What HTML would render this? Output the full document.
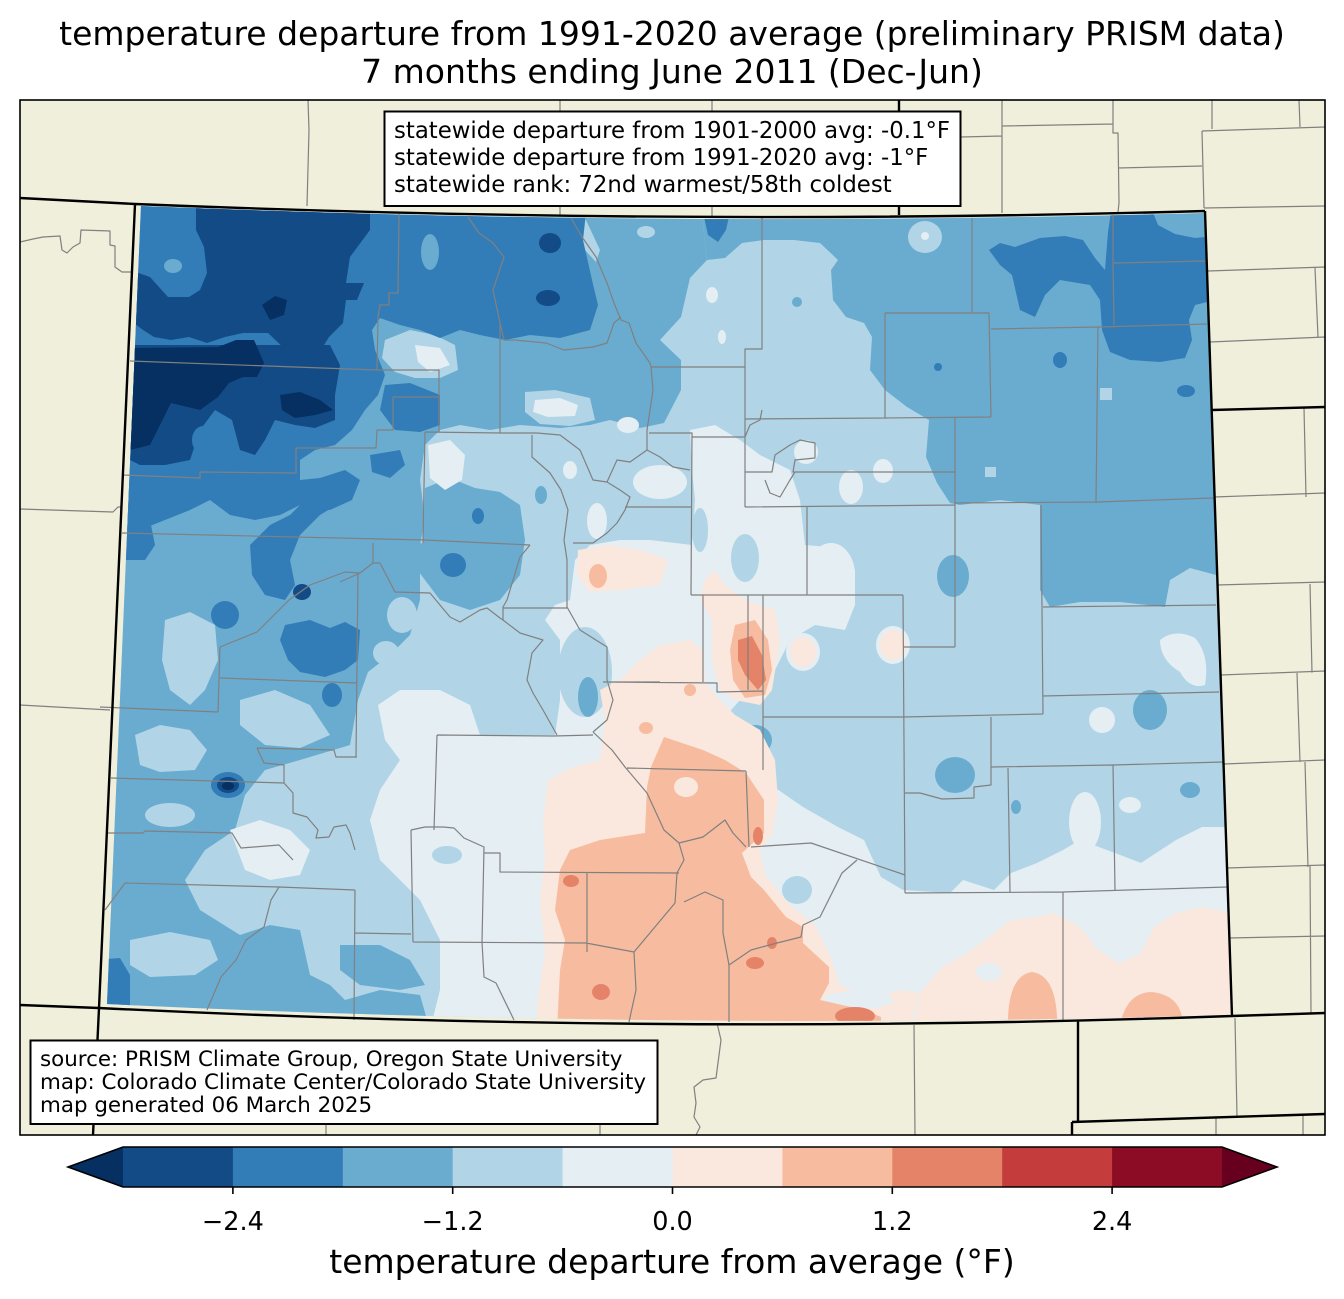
<!DOCTYPE html>
<html><head><meta charset="utf-8"><style>html,body{margin:0;padding:0;background:#fff}svg{display:block}</style></head>
<body>
<svg xmlns="http://www.w3.org/2000/svg" width="1344" height="1299" viewBox="0 0 1344 1299" font-family="DejaVu Sans, Liberation Sans, sans-serif">
<rect width="1344" height="1299" fill="#fff"/>
<text x="672" y="45" font-size="33" text-anchor="middle" fill="#000">temperature departure from 1991-2020 average (preliminary PRISM data)</text>
<text x="672" y="83" font-size="33" text-anchor="middle" fill="#000">7 months ending June 2011 (Dec-Jun)</text>
<defs>
<clipPath id="fr"><rect x="20" y="100" width="1305" height="1035"/></clipPath>
<clipPath id="co"><path d="M141,206 Q670,228 1204,213 L1231,1015 Q668,1031 107,1004 Z"/></clipPath>
</defs>
<g clip-path="url(#fr)">
<rect x="20" y="100" width="1305" height="1035" fill="#efefdb"/>
<g clip-path="url(#co)">
<rect x="90" y="190" width="1160" height="850" fill="#b1d5e7"/>
<!-- bin3 -->
<g fill="#6aacd0">
<polygon points="120,195 700,195 707,260 690,278 681,317 660,340 681,360 681,390 664,423 640,428 610,420 590,425 560,428 520,425 490,430 460,425 440,430 425,445 420,480 425,520 420,545 420,600 410,635 390,655 368,672 358,700 350,745 300,760 265,770 245,795 235,830 205,850 185,880 200,910 240,935 270,925 300,930 310,975 330,985 345,1000 380,990 420,995 430,1030 90,1030"/>
<polygon points="700,195 1240,195 1240,575 1216,575 1190,568 1170,580 1165,607 1120,602 1080,602 1050,607 1040,590 1040,505 1000,500 960,505 950,503 937,483 926,457 929,420 907,407 885,390 870,370 872,337 864,323 846,317 833,300 831,270 838,260 820,243 794,240 764,240 742,243 725,258 707,260"/>
<polygon points="425,488 450,478 475,488 500,492 520,505 525,540 520,575 500,600 470,610 440,600 425,580 410,560 400,545 423,543"/>
<polygon points="340,945 380,945 410,960 425,985 400,990 360,985 340,970"/>
<ellipse cx="541" cy="495" rx="6" ry="9"/>
<ellipse cx="1150" cy="710" rx="17" ry="20"/>
<ellipse cx="955" cy="775" rx="20" ry="18"/>
<ellipse cx="755" cy="740" rx="17" ry="15"/>
<ellipse cx="1190" cy="790" rx="10" ry="8"/>
<ellipse cx="1016" cy="807" rx="5" ry="7"/>
<ellipse cx="953" cy="576" rx="16" ry="21"/>
<ellipse cx="797" cy="302" rx="5" ry="5"/>
</g>
<!-- bin4 patches in bin3 -->
<g fill="#b1d5e7">
<ellipse cx="925" cy="237" rx="17" ry="16"/>
<rect x="985" y="467" width="11" height="10"/>
<rect x="1100" y="388" width="12" height="12"/>
<polygon points="385,340 410,330 435,335 455,345 458,370 440,378 415,378 395,372 382,358"/>
<polygon points="525,392 555,390 590,398 595,420 570,426 540,424 525,412"/>
<polygon points="165,620 190,612 215,625 218,660 205,690 190,705 170,690 162,660"/>
<polygon points="135,735 160,725 190,730 207,750 195,770 160,772 140,765"/>
<polygon points="130,940 170,932 210,940 218,960 195,975 150,977 130,965"/>
<polygon points="240,700 275,690 310,705 330,735 300,748 265,745 240,725"/>
<ellipse cx="170" cy="815" rx="25" ry="12"/>
<polygon points="573,218 585,218 600,250 596,262 585,250"/>
<ellipse cx="646" cy="232" rx="9" ry="6"/>
<ellipse cx="466" cy="303" rx="6" ry="10"/>
<ellipse cx="402" cy="615" rx="15" ry="18"/>
<ellipse cx="386" cy="653" rx="13" ry="12"/>
</g>
<!-- bin2 -->
<g fill="#327db8">
<polygon points="120,195 588,195 583,240 592,280 598,305 590,330 560,338 530,335 505,340 480,335 460,330 440,338 420,330 400,325 380,318 372,330 375,350 385,375 378,395 365,410 352,430 335,445 315,450 300,460 300,480 320,478 345,470 360,480 352,500 330,510 300,505 280,515 255,520 230,515 210,500 190,510 165,520 140,530 120,530"/>
<polygon points="989,250 1000,243 1015,247 1040,238 1065,236 1083,240 1095,258 1105,270 1108,232 1112,205 1150,205 1158,225 1175,234 1195,238 1215,236 1215,300 1195,305 1189,320 1192,340 1185,358 1160,362 1130,360 1110,352 1102,330 1100,300 1090,285 1060,280 1045,295 1035,317 1020,310 1012,275 1000,265"/>
<polygon points="703,212 730,212 726,230 718,242 708,235"/>
<polygon points="385,385 410,383 440,395 440,425 420,432 395,430 380,410"/>
<polygon points="370,455 400,450 405,465 390,478 372,472"/>
<polygon points="250,545 270,525 290,515 310,495 330,480 350,478 345,500 320,515 300,535 290,560 295,585 285,600 265,595 252,575"/>
<polygon points="285,625 310,620 330,628 345,622 360,630 358,660 345,670 325,677 300,672 288,660 280,640"/>
<ellipse cx="225" cy="615" rx="14" ry="14"/>
<ellipse cx="332" cy="695" rx="10" ry="12"/>
<polygon points="120,470 150,468 165,485 160,505 150,520 155,545 145,560 120,560"/>
<polygon points="95,960 120,958 130,975 130,1010 95,1010"/>
<ellipse cx="478" cy="516" rx="6" ry="8"/>
<ellipse cx="453" cy="565" rx="13" ry="12"/>
<ellipse cx="1060" cy="360" rx="7" ry="8"/>
<ellipse cx="1186" cy="391" rx="9" ry="6"/>
<ellipse cx="938" cy="367" rx="4" ry="4"/>
<ellipse cx="228" cy="785" rx="17" ry="13"/>
</g>
<g fill="#6aacd0">
<ellipse cx="430" cy="252" rx="9" ry="18"/>
<ellipse cx="173" cy="266" rx="9" ry="7"/>
</g>
<!-- bin1 -->
<g fill="#134b86">
<polygon points="196,195 370,195 370,230 350,257 346,283 364,283 357,300 346,300 343,323 329,337 321,350 300,347 286,350 268,333 243,333 225,337 207,343 189,337 171,340 154,337 143,330 130,320 130,270 150,277 168,297 189,297 200,290 207,273 204,247 196,230"/>
<polygon points="130,345 330,345 340,365 335,395 335,420 315,428 295,425 275,420 265,440 255,455 240,450 232,420 215,410 200,430 190,460 165,465 140,465 130,460"/>
<ellipse cx="550" cy="243" rx="11" ry="10"/>
<ellipse cx="548" cy="298" rx="12" ry="8"/>
<ellipse cx="302" cy="592" rx="9" ry="8"/>
<ellipse cx="228" cy="785" rx="11" ry="8"/>
</g>
<ellipse cx="203" cy="440" rx="11" ry="14" fill="#327db8"/>
<!-- extend low -->
<g fill="#053061">
<polygon points="130,348 218,347 236,340 254,340 264,363 257,377 243,377 229,383 218,397 200,410 171,403 160,425 150,445 130,450"/>
<polygon points="262,305 275,296 287,300 284,315 270,320"/>
<polygon points="280,395 300,392 320,400 333,410 315,415 295,418 282,410"/>
<ellipse cx="228" cy="786" rx="6" ry="4"/>
</g>
<!-- bin5 -->
<g fill="#e4eef3">
<polygon points="690,430 715,425 740,440 760,455 790,470 800,500 805,545 840,548 855,570 855,605 845,630 815,625 790,640 775,670 760,700 740,700 725,717 746,767 764,780 803,807 838,827 864,840 881,877 903,890 950,893 963,880 994,890 1011,873 1037,863 1063,850 1080,840 1115,853 1141,863 1176,840 1202,827 1240,827 1240,1030 430,1030 440,990 440,940 420,900 400,880 380,860 370,820 380,790 400,760 385,740 378,705 400,690 440,690 470,705 480,735 520,735 555,735 560,700 560,640 545,620 555,605 570,600 575,560 590,545 620,540 650,540 692,545 695,500 692,470"/>
<polygon points="428,445 450,440 465,455 462,480 445,490 430,478"/>
<polygon points="415,345 440,348 450,365 430,372 418,362"/>
<polygon points="535,400 560,398 578,405 575,416 548,417 533,412"/>
<ellipse cx="628" cy="425" rx="11" ry="8"/>
<ellipse cx="570" cy="470" rx="7" ry="9"/>
<ellipse cx="660" cy="482" rx="27" ry="17"/>
<ellipse cx="597" cy="521" rx="10" ry="18"/>
<ellipse cx="712" cy="295" rx="6" ry="8"/>
<ellipse cx="722" cy="337" rx="4" ry="7"/>
<ellipse cx="925" cy="236" rx="4" ry="4"/>
<path d="M1160,640 Q1175,628 1195,638 Q1210,655 1205,685 Q1190,690 1180,672 Q1160,660 1160,640 Z"/>
<ellipse cx="1102" cy="720" rx="13" ry="13"/>
<ellipse cx="1085" cy="822" rx="16" ry="30"/>
<ellipse cx="1130" cy="805" rx="11" ry="8"/>
<ellipse cx="851" cy="487" rx="12" ry="17"/>
<ellipse cx="883" cy="471" rx="10" ry="12"/>
<ellipse cx="806" cy="452" rx="12" ry="12"/>
<ellipse cx="831" cy="575" rx="24" ry="32"/>
<polygon points="230,830 260,820 290,830 310,850 300,875 270,880 245,870"/>
<ellipse cx="803" cy="652" rx="17" ry="19"/>
<ellipse cx="893" cy="645" rx="17" ry="19"/>
</g>
<g fill="#b1d5e7">
<ellipse cx="585" cy="672" rx="27" ry="45"/>
<ellipse cx="447" cy="855" rx="15" ry="9"/>
<ellipse cx="797" cy="890" rx="15" ry="14"/>
<ellipse cx="700" cy="530" rx="8" ry="22"/>
<ellipse cx="745" cy="558" rx="14" ry="24"/>
</g>
<ellipse cx="588" cy="697" rx="10" ry="20" fill="#6aacd0"/>
<!-- bin6 -->
<g fill="#fae8de">
<polygon points="600,690 620,680 640,660 660,645 690,640 703,650 705,683 720,700 735,715 760,730 775,760 778,800 772,835 760,850 765,875 790,905 815,925 830,955 840,985 870,1000 900,990 920,993 910,1030 535,1030 538,1000 545,950 540,900 545,860 543,820 548,780 570,768 600,760 605,720"/>
<polygon points="905,1030 916,1017 920,993 942,967 968,953 994,933 1011,920 1037,917 1054,913 1080,927 1098,950 1119,963 1141,953 1154,927 1176,913 1202,907 1240,915 1240,1030"/>
<polygon points="705,580 715,570 725,585 745,600 775,610 780,640 772,690 760,705 735,700 720,690 712,660 712,620 700,600"/>
<polygon points="578,550 610,545 640,550 668,560 660,585 620,590 590,592 577,575"/>
<ellipse cx="803" cy="652" rx="13" ry="15"/>
<ellipse cx="893" cy="645" rx="13" ry="15"/>
<ellipse cx="690" cy="690" rx="12" ry="12"/>
</g>
<ellipse cx="989" cy="972" rx="13" ry="9" fill="#e4eef3"/>
<ellipse cx="858" cy="1000" rx="35" ry="9" fill="#e4eef3"/>
<!-- bin7 -->
<g fill="#f7bc9f">
<polygon points="664,737 651,767 647,787 645,833 600,840 570,850 560,870 555,910 565,940 560,970 557,1030 881,1030 881,1017 864,1010 820,1000 829,983 829,967 803,943 803,927 786,917 764,890 751,877 742,853 764,833 764,800 746,773 725,760 703,750"/>
<polygon points="735,625 755,620 768,640 772,670 765,695 745,698 733,680 730,650"/>
<ellipse cx="598" cy="576" rx="9" ry="12"/>
<ellipse cx="690" cy="690" rx="6" ry="6"/>
<ellipse cx="646" cy="728" rx="7" ry="6"/>
<path d="M1008,1030 L1008,1017 Q1010,975 1032,972 Q1055,975 1057,1017 L1057,1030 Z"/>
<path d="M1122,1030 L1122,1017 Q1130,992 1152,992 Q1178,995 1182,1017 L1182,1030 Z"/>
</g>
<ellipse cx="686" cy="787" rx="12" ry="10" fill="#fae8de"/>
<!-- bin8 -->
<g fill="#e58368">
<polygon points="738,640 752,636 762,655 766,680 758,690 745,675 738,660"/>
<ellipse cx="571" cy="881" rx="8" ry="6"/>
<ellipse cx="601" cy="992" rx="9" ry="8"/>
<ellipse cx="758" cy="836" rx="5" ry="9"/>
<ellipse cx="772" cy="943" rx="5" ry="6"/>
<ellipse cx="755" cy="963" rx="9" ry="6"/>
<ellipse cx="855" cy="1016" rx="20" ry="9"/>
</g>
</g>
<!-- county lines -->
<path fill="none" stroke="#808080" stroke-width="1.2" stroke-linejoin="round" d="
M308,100 L309,130 L307,206
M560,100 L560,216
M712,100 L712,216
M961,137 L1002,136
M1002,100 L1002,213
M1002,126 L1113,124
M1113,100 L1113,133 L1118,133 L1119,203 L1118,212
M1118,168 L1202,166
M1212,100 L1212,129
M1202,131 L1325,127
M1202,131 L1204,208
M1299,100 L1300,127
M1204,208 L1325,206
M1208,271 L1325,267
M1315,268 L1318,337
M1210,342 L1325,337
M1304,408 L1306,497
M1214,497 L1325,493
M1217,585 L1325,582
M1310,584 L1312,673
M1221,675 L1325,671
M1297,673 L1300,762
M1224,764 L1325,760
M1305,762 L1308,867
M1227,868 L1325,865
M1310,866 L1311,1013
M1229,938 L1325,936
M20,242 L33,239 L43,237 L60,236 L62,250 L67,253 L73,247 L80,243 L81,230 L110,231 L110,245 L115,246 L115,267 L122,272 L131,272
M20,509 L113,512 L118,507 L122,507
M20,705 L110,710
M717,1023 L721,1040 L716,1078 L703,1080 L694,1087 L696,1103 L694,1117 L700,1127 L696,1135
M914,1025 L915,1135
M1235,1018 L1237,1117
M1216,1118 L1216,1135
M1303,1115 L1303,1135
M326,1124 L326,1135
M600,1124 L600,1135
M130,361 L377,370
M377,370 L378,317 L380,305 L389,305 L389,293 L398,293 L399,214
M377,370 L439,370 L439,432
M393,397 L439,397
M393,397 L393,430 L377,430 L376,448 L296,448 L296,473 L200,472 L200,478 L123,475
M340,448 L376,448
M425,432 L502,433 L537,433 L560,435 L580,450 L593,480 L607,482 L617,460 L630,462 L647,450 L660,457 L673,467 L690,470
M607,482 L620,490 L630,497 L625,510 L617,523 L607,533 L593,543 L573,543
M625,507 L692,507
M532,435 L532,457 L550,473 L561,490 L568,510 L564,540 L567,560 L567,607 L580,630 L607,647 L607,680 L613,700 L607,720 L593,732
M530,545 L520,557 L507,600 L503,607 L503,620 L520,633 L543,640 L532,653 L527,680 L533,693 L543,710 L557,735
M503,608 L567,608
M425,432 L423,543
M122,533 L425,540 L530,545
M373,543 L373,563 L380,563 L395,592 L430,593 L440,605 L450,617 L460,622 L480,610 L487,608 L500,618 L503,620
M340,582 L360,573 L373,563
M468,217 L479,233 L493,243 L504,257 L493,290 L500,323 L504,340 L514,340 L546,343 L564,350 L593,347 L607,343 L614,323 L621,317
M500,323 L500,433
M571,218 L582,237 L596,257 L607,283 L614,303 L621,320 L629,323 L636,343 L650,363 L651,367
M651,367 L745,367
M651,367 L653,390 L649,417 L647,430 L647,450
M649,433 L692,433 L691,595
M692,437 L745,437
M762,218 L762,349 L745,349 L745,507
M745,419 L885,418 L991,417
M885,313 L989,313 L991,417
M885,313 L885,418
M972,218 L972,312
M991,329 L1098,327 L1207,324
M1113,215 L1113,263 L1114,325
M1114,263 L1206,261
M1098,327 L1096,502
M955,503 L1098,502 L1213,498
M955,418 L955,647
M745,472 L772,472 L775,455 L790,445 L800,440 L815,443 L815,458 L795,460 L793,472 L955,472
M745,437 L750,425 L760,420 L762,410
M745,507 L955,505
M765,480 L770,493 L780,497 L790,480 L795,472
M807,507 L807,595
M691,595 L903,595
M903,595 L905,893
M903,647 L955,647
M1041,505 L1043,714
M1043,607 L1216,605
M1043,696 L1219,692
M703,595 L703,682
M603,682 L717,683 L717,692 L763,691
M763,595 L763,770
M748,595 L748,690
M763,717 L903,717 L1043,714
M991,717 L991,785 L974,787 L974,798 L942,799 L920,793 L905,793
M991,767 L1113,765 L1223,762
M1008,768 L1010,892
M1113,765 L1115,890
M905,893 L1063,892 L1227,887
M1063,892 L1063,1021
M751,847 L811,843 L905,875
M857,860 L842,873 L820,917 L803,925 L801,937 L777,943 L751,950 L729,965 L729,1022
M746,771 L749,847
M593,732 L612,750 L625,767 L647,793 L664,830 L679,843 L703,837 L725,820 L733,833 L746,847
M437,735 L554,736 L593,735
M627,768 L746,771
M679,843 L684,860 L677,873 L675,903 L634,952 L636,990 L629,1022
M684,902 L705,892 L723,900 L723,933 L729,965
M484,853 L500,853 L500,872 L679,873
M587,873 L587,952
M413,942 L586,943 L634,952
M100,707 L218,712
M220,647 L218,712
M220,647 L257,632 L289,600 L310,585 L345,572 L360,573
M220,678 L357,683
M358,573 L356,757
M257,748 L334,750 L336,757 L357,757
M257,748 L264,763 L284,765 L284,783 L293,793 L293,813 L307,817 L318,830 L316,838 L329,837 L334,827 L346,825 L350,833 L355,850
M111,778 L284,783
M107,833 L143,833 L145,831 L232,833 L241,848 L254,847 L279,845 L293,860
M125,883 L279,887 L355,890
M125,883 L105,910
M279,887 L271,900 L264,927 L246,940 L236,960 L221,977 L207,1010
M355,890 L354,1020
M355,933 L411,934
M411,830 L413,942
M411,830 L425,827 L443,827 L454,828 L464,838 L484,847 L482,942
M482,942 L484,977 L496,983 L514,1020
M437,735 L434,830
M603,682 L660,682
"/>
<!-- state lines -->
<path fill="none" stroke="#000" stroke-width="2.4" stroke-linejoin="round" d="
M20,198 L135,204 Q670,226 1205,211
M135,204 L99,1008 L93,1135
M1205,211 L1232,1016
M1212,410 L1325,407
M20,1005 L99,1008 Q668,1036 1232,1016 L1325,1013
M899,100 L899,215
M1078,1021 L1078,1121
M1072,1122 L1325,1114
M1072,1122 L1072,1135
"/>
</g>
<rect x="20" y="100" width="1305" height="1035" fill="none" stroke="#000" stroke-width="1.6"/>
<!-- text boxes -->
<rect x="384.5" y="111.5" width="576" height="94.5" fill="#fff" stroke="#000" stroke-width="2"/>
<g font-size="22.8" fill="#000">
<text x="394" y="138">statewide departure from 1901-2000 avg: -0.1°F</text>
<text x="394" y="165">statewide departure from 1991-2020 avg: -1°F</text>
<text x="394" y="192">statewide rank: 72nd warmest/58th coldest</text>
</g>
<rect x="30.5" y="1040.5" width="627" height="83.5" fill="#fff" stroke="#000" stroke-width="2"/>
<g font-size="21.4" fill="#000">
<text x="40" y="1066">source: PRISM Climate Group, Oregon State University</text>
<text x="40" y="1089">map: Colorado Climate Center/Colorado State University</text>
<text x="40" y="1112">map generated 06 March 2025</text>
</g>
<!-- colorbar -->
<polygon points="68,1167 123,1147 123,1187" fill="#053061"/>
<polygon points="1277,1167 1222,1147 1222,1187" fill="#67001f"/>
<rect x="123" y="1147" width="110.4" height="40" fill="#134b86"/>
<rect x="232.9" y="1147" width="110.4" height="40" fill="#327db8"/>
<rect x="342.8" y="1147" width="110.4" height="40" fill="#6aacd0"/>
<rect x="452.7" y="1147" width="110.4" height="40" fill="#b1d5e7"/>
<rect x="562.6" y="1147" width="110.4" height="40" fill="#e4eef3"/>
<rect x="672.5" y="1147" width="110.4" height="40" fill="#fae8de"/>
<rect x="782.4" y="1147" width="110.4" height="40" fill="#f7bc9f"/>
<rect x="892.3" y="1147" width="110.4" height="40" fill="#e58368"/>
<rect x="1002.2" y="1147" width="110.4" height="40" fill="#c43c3c"/>
<rect x="1112.1" y="1147" width="109.9" height="40" fill="#8c0c25"/>
<path d="M68,1167 L123,1147 L1222,1147 L1277,1167 L1222,1187 L123,1187 Z" fill="none" stroke="#000" stroke-width="1.6"/>
<path d="M232.9,1187 L232.9,1194 M452.7,1187 L452.7,1194 M672.5,1187 L672.5,1194 M892.3,1187 L892.3,1194 M1112.1,1187 L1112.1,1194" stroke="#000" stroke-width="1.6"/>
<g font-size="25.5" text-anchor="middle" fill="#000">
<text x="232.9" y="1230">−2.4</text>
<text x="452.7" y="1230">−1.2</text>
<text x="672.5" y="1230">0.0</text>
<text x="892.3" y="1230">1.2</text>
<text x="1112.1" y="1230">2.4</text>
</g>
<text x="672" y="1273" font-size="33" text-anchor="middle" fill="#000">temperature departure from average (°F)</text>
</svg>
</body></html>
